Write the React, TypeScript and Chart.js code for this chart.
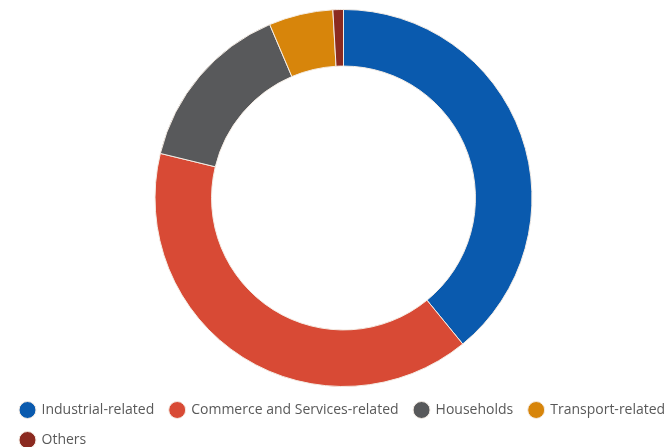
import React, { useEffect, useRef } from "react";
import { Chart, registerables } from "chart.js";

Chart.register(...registerables);

const categories = [
  "Industrial-related",
  "Commerce and Services-related",
  "Households",
  "Transport-related",
  "Others",
];
const shares = [39.1, 39.7, 14.8, 5.5, 0.9];
const colors = ["#0a5aae", "#d84a35", "#58595b", "#d7850b", "#8b2a20"];

export default function App() {
  const ref = useRef<HTMLCanvasElement | null>(null);
  useEffect(() => {
    if (!ref.current) return;
    const chart = new Chart(ref.current, {
      type: "doughnut",
      data: {
        labels: categories,
        datasets: [
          {
            data: shares,
            backgroundColor: colors,
            borderColor: "#f4ece4",
            borderWidth: 1,
          },
        ],
      },
      options: {
        animation: false,
        responsive: false,
        devicePixelRatio: 1,
        cutout: "70%",
        layout: { padding: { top: 9, left: 4.5, right: 0.5, bottom: 0 } },
        plugins: {
          tooltip: { enabled: false },
          legend: {
            position: "bottom",
            align: "start",
            labels: {
              usePointStyle: true,
              pointStyle: "circle",
              boxHeight: 12,
              padding: 16,
              color: "#595959",
              font: { family: "'Open Sans'", size: 14 },
            },
          },
        },
      },
    });
    return () => chart.destroy();
  }, []);
  return (
    <div
      style={{
        position: "fixed",
        left: 0,
        top: 0,
        width: 665,
        height: 447,
        overflow: "hidden",
        background: "#fff",
      }}
    >
      <canvas ref={ref} width={683} height={457} style={{ width: 683, height: 457, display: "block" }} />
    </div>
  );
}
